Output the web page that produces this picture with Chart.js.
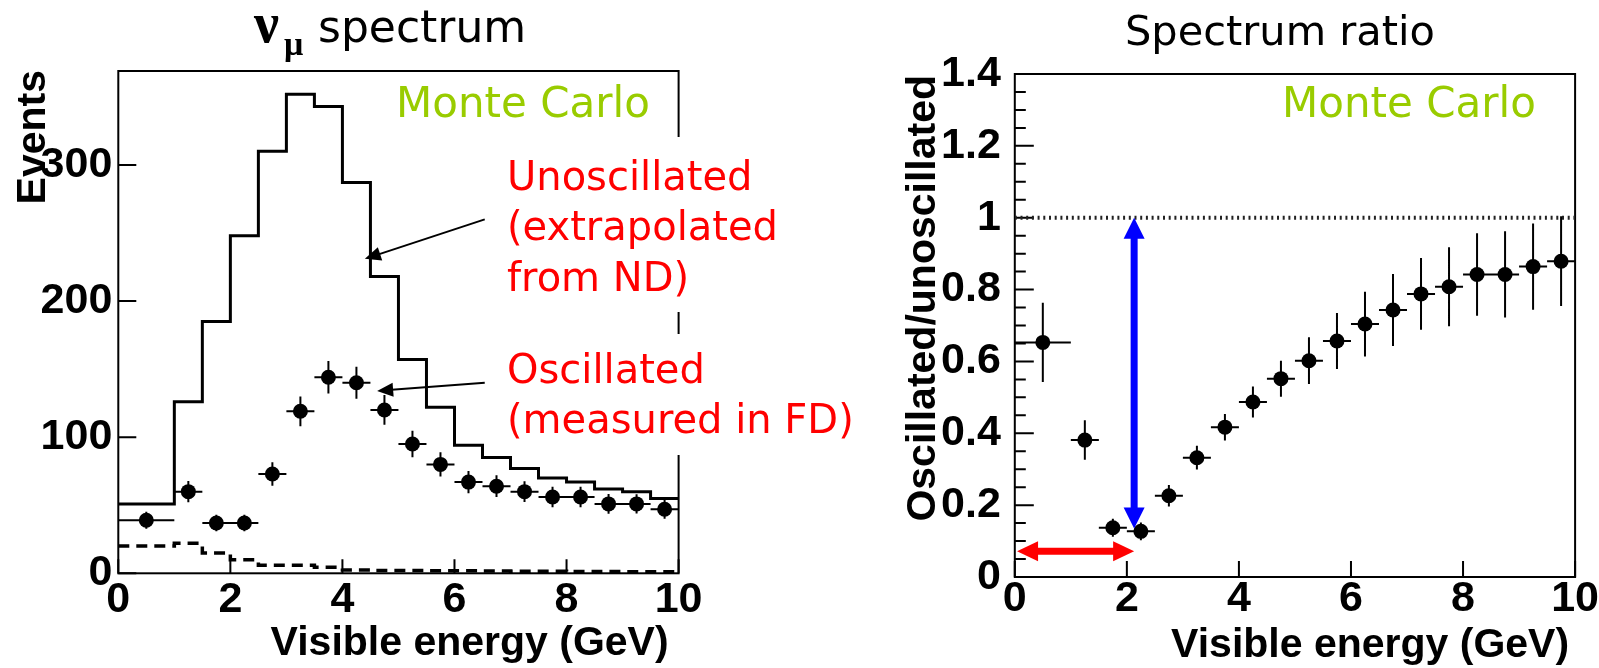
<!DOCTYPE html>
<html lang="en">
<head>
<meta charset="UTF-8" />
<title>numu spectrum and spectrum ratio</title>
<script src="https://cdn.jsdelivr.net/npm/chart.js"></script>
<style>
  body { margin: 0; background: #fff; }
  #wrap { position: relative; width: 1599px; height: 668px; overflow: hidden; }
  canvas { position: absolute; top: 0; }
  #spectrum { left: 0; }
  #ratio { left: 880px; }
</style>
</head>
<body>
<div id="wrap">
  <canvas id="spectrum" width="880" height="668"></canvas>
  <canvas id="ratio" width="719" height="668"></canvas>
</div>
<script>
// bin edges in visible energy (GeV), same binning on both plots
const binEdges = [0, 1, 1.5, 2, 2.5, 3, 3.5, 4, 4.5, 5, 5.5, 6, 6.5, 7, 7.5, 8, 8.5, 9, 9.5, 10];
// unoscillated prediction (extrapolated from ND)
const unoscEvents = [51, 126, 185, 248, 310, 352, 343, 287, 218, 157, 122, 94, 85, 77, 70, 67, 62, 60, 55];
// background, dashed
const bkgEvents = [20, 22, 15, 10, 6, 6, 4.4, 2.4, 2, 2, 1.8, 1.8, 1.6, 1.5, 1.5, 1.4, 1.3, 1.2, 1.2];
// oscillated (measured in FD)
const oscEvents = [39, 60, 37, 37, 73, 119, 144, 140, 120, 95, 80, 67, 64, 60, 56, 56, 51, 51, 47];
const oscErrors = [6.2, 7.8, 6.1, 6.1, 8.6, 10.9, 12, 11.8, 10.9, 9.7, 8.9, 8.2, 8, 7.7, 7.5, 7.5, 7.2, 7.1, 6.9];
// oscillated / unoscillated
const ratioValues = [0.653, 0.381, 0.137, 0.127, 0.226, 0.332, 0.417, 0.487, 0.552, 0.602, 0.657, 0.704, 0.743, 0.788, 0.808, 0.842, 0.842, 0.864, 0.879];
const ratioErrors = [0.11, 0.055, 0.025, 0.025, 0.03, 0.033, 0.037, 0.043, 0.05, 0.065, 0.078, 0.09, 0.1, 0.1, 0.11, 0.115, 0.12, 0.12, 0.125];
// unit ratio reference line
const unityX = [0, 10];
const unityY = [1, 1];
// arrows on the ratio plot: [x0, y0, x1, y1]
const dipDepthArrow = [2.13, 0.135, 2.13, 1.0];
const dipPositionArrow = [0.04, 0.072, 2.13, 0.072];
// arrows on the spectrum pointing at the curves: [x0, y0, x1, y1]
const unoscPointer = [6.54, 260, 4.4, 231];
const oscPointer = [6.54, 140, 4.62, 134];

const binCenters = binEdges.slice(0, -1).map((e, i) => (e + binEdges[i + 1]) / 2);
const histPoints = (vals) => binEdges.map((e, i) => ({ x: e, y: vals[Math.min(i, vals.length - 1)] }));
const markerPoints = (vals) => vals.map((v, i) => ({ x: binCenters[i], y: v }));

const TICK_FONT = { family: "'Liberation Sans', Arial, sans-serif", size: 43, weight: 'bold' };
const LABEL_FONT = "bold 41px 'Liberation Sans', Arial, sans-serif";
const GREEN = '#99cc00';

function drawArrow(ctx, x0, y0, x1, y1, o) {
  const a = Math.atan2(y1 - y0, x1 - x0);
  const c = Math.cos(a), s = Math.sin(a);
  const head = (tx, ty, dir) => {
    ctx.beginPath();
    ctx.moveTo(tx, ty);
    ctx.lineTo(tx - dir * o.len * c + o.half * s, ty - dir * o.len * s - o.half * c);
    ctx.lineTo(tx - dir * o.len * c - o.half * s, ty - dir * o.len * s + o.half * c);
    ctx.closePath();
    ctx.fill();
  };
  ctx.save();
  ctx.strokeStyle = o.color;
  ctx.fillStyle = o.color;
  ctx.lineWidth = o.width;
  const back = o.len * 0.7;
  ctx.beginPath();
  ctx.moveTo(o.both ? x0 + back * c : x0, o.both ? y0 + back * s : y0);
  ctx.lineTo(x1 - back * c, y1 - back * s);
  ctx.stroke();
  head(x1, y1, 1);
  if (o.both) head(x0, y0, -1);
  ctx.restore();
}

function arrowFromData(chart, arr, o) {
  const { x, y } = chart.scales;
  drawArrow(chart.ctx, x.getPixelForValue(arr[0]), y.getPixelForValue(arr[1]),
    x.getPixelForValue(arr[2]), y.getPixelForValue(arr[3]), o);
}

// ROOT style frame with ticks pointing into the plot
function drawFrame(chart, t) {
  const { ctx, chartArea: a, scales } = chart;
  ctx.save();
  ctx.strokeStyle = '#000';
  ctx.lineWidth = 2;
  ctx.strokeRect(a.left, a.top, a.right - a.left, a.bottom - a.top);
  ctx.beginPath();
  scales.x.ticks.forEach((tk) => {
    const px = scales.x.getPixelForValue(tk.value);
    ctx.moveTo(px, a.bottom);
    ctx.lineTo(px, a.bottom - t.xLen);
  });
  scales.y.ticks.forEach((tk) => {
    const py = scales.y.getPixelForValue(tk.value);
    ctx.moveTo(a.left, py);
    ctx.lineTo(a.left + t.yLen, py);
  });
  if (t.yMinorStep) {
    for (let v = 0; v <= scales.y.max + 1e-9; v += t.yMinorStep) {
      const py = scales.y.getPixelForValue(v);
      ctx.moveTo(a.left, py);
      ctx.lineTo(a.left + t.yMinorLen, py);
    }
  }
  ctx.stroke();
  ctx.restore();
}

function drawErrorBars(chart, vals, errs) {
  const { ctx, scales } = chart;
  ctx.save();
  ctx.strokeStyle = '#000';
  ctx.lineWidth = 2;
  ctx.beginPath();
  vals.forEach((v, i) => {
    const cx = scales.x.getPixelForValue(binCenters[i]);
    const cy = scales.y.getPixelForValue(v);
    ctx.moveTo(scales.x.getPixelForValue(binEdges[i]), cy);
    ctx.lineTo(scales.x.getPixelForValue(binEdges[i + 1]), cy);
    ctx.moveTo(cx, scales.y.getPixelForValue(v - errs[i]));
    ctx.lineTo(cx, scales.y.getPixelForValue(v + errs[i]));
  });
  ctx.stroke();
  ctx.restore();
}

function text(ctx, str, x, y, font, color, align) {
  ctx.font = font;
  ctx.fillStyle = color || '#000';
  ctx.textAlign = align || 'left';
  ctx.textBaseline = 'alphabetic';
  ctx.fillText(str, x, y);
}

function verticalTitle(ctx, str, x, yTop) {
  ctx.save();
  ctx.translate(x, yTop);
  ctx.rotate(-Math.PI / 2);
  text(ctx, str, 0, 0, LABEL_FONT, '#000', 'right');
  ctx.restore();
}

function axes(opts) {
  return {
    x: {
      type: 'linear', min: 0, max: 10,
      grid: { display: false, drawTicks: false }, border: { display: false },
      ticks: { stepSize: 2, font: TICK_FONT, color: '#000', padding: opts.xPad, maxRotation: 0 },
      afterFit: (s) => { s.height = opts.xHeight; }
    },
    y: {
      min: 0, max: opts.yMax,
      grid: { display: false, drawTicks: false }, border: { display: false },
      ticks: { stepSize: opts.yStep, includeBounds: false, font: TICK_FONT, color: '#000', padding: opts.yPad,
        callback: (v) => String(+v.toFixed(1)) },
      afterFit: (s) => { s.width = opts.yWidth; }
    }
  };
}

// left: spectrum
new Chart(document.getElementById('spectrum'), {
  type: 'scatter',
  data: {
    datasets: [
      { data: markerPoints(oscEvents), pointRadius: 7.5, pointBackgroundColor: '#000', pointBorderWidth: 0 },
      { data: histPoints(unoscEvents), showLine: true, stepped: true, borderColor: '#000', borderWidth: 3, pointRadius: 0 },
      { data: histPoints(bkgEvents), showLine: true, stepped: true, borderColor: '#000', borderWidth: 3.5, borderDash: [11, 7], pointRadius: 0 }
    ]
  },
  options: {
    responsive: false, animation: false,
    layout: { padding: { left: 0, top: 71, right: 201.4, bottom: 0 } },
    plugins: { legend: { display: false }, tooltip: { enabled: false } },
    scales: axes({ yMax: 369, yStep: 100, xPad: 1, yPad: 6, xHeight: 94.7, yWidth: 118.3 })
  },
  plugins: [{
    id: 'spectrumDecor',
    beforeDatasetsDraw(chart) { drawFrame(chart, { xLen: 14, yLen: 18 }); },
    afterDatasetsDraw(chart) { drawErrorBars(chart, oscEvents, oscErrors); },
    afterDraw(chart) {
      const ctx = chart.ctx, a = chart.chartArea;
      ctx.save();
      // label boxes sit over the right edge of the frame
      ctx.fillStyle = '#fff';
      ctx.fillRect(486, 137, 330, 175);
      ctx.fillRect(484, 334, 390, 121);
      const red = "40px 'DejaVu Sans', sans-serif";
      text(ctx, 'Unoscillated', 507, 190, red, '#ff0000');
      text(ctx, '(extrapolated', 507, 240, red, '#ff0000');
      text(ctx, 'from ND)', 507, 291, red, '#ff0000');
      text(ctx, 'Oscillated', 507, 383, red, '#ff0000');
      text(ctx, '(measured in FD)', 507, 433, red, '#ff0000');
      const pointer = { color: '#000', width: 2, len: 16, half: 7 };
      arrowFromData(chart, unoscPointer, pointer);
      arrowFromData(chart, oscPointer, pointer);
      text(ctx, 'Monte Carlo', 396, 117, "42px 'DejaVu Sans', sans-serif", GREEN);
      text(ctx, '\u03bd', 254, 42, "bold 56px 'Liberation Serif', serif");
      text(ctx, '\u03bc', 284, 55, "bold 34px 'Liberation Serif', serif");
      text(ctx, 'spectrum', 318, 42, "44px 'DejaVu Sans', sans-serif");
      verticalTitle(ctx, 'Events', 45, a.top - 1);
      text(ctx, 'Visible energy (GeV)', a.right - 10, 655, LABEL_FONT, '#000', 'right');
      ctx.restore();
    }
  }]
});

// right: ratio
new Chart(document.getElementById('ratio'), {
  type: 'scatter',
  data: {
    datasets: [
      { data: markerPoints(ratioValues), pointRadius: 7.5, pointBackgroundColor: '#000', pointBorderWidth: 0 },
      { data: unityX.map((x, i) => ({ x, y: unityY[i] })), showLine: true, borderColor: '#222', borderWidth: 4,
        borderDash: [2, 3.7], pointRadius: 0 }
    ]
  },
  options: {
    responsive: false, animation: false,
    layout: { padding: { left: 0, top: 74, right: 23.9, bottom: 0 } },
    plugins: { legend: { display: false }, tooltip: { enabled: false } },
    scales: axes({ yMax: 1.4, yStep: 0.2, xPad: -4, yPad: 14, xHeight: 91, yWidth: 134.8 })
  },
  plugins: [{
    id: 'ratioDecor',
    beforeDatasetsDraw(chart) { drawFrame(chart, { xLen: 16, yLen: 19, yMinorStep: 0.05, yMinorLen: 11 }); },
    afterDatasetsDraw(chart) {
      drawErrorBars(chart, ratioValues, ratioErrors);
      arrowFromData(chart, dipDepthArrow, { color: '#0000ff', width: 7, len: 21, half: 10.5, both: true });
      arrowFromData(chart, dipPositionArrow, { color: '#ff0000', width: 7, len: 21, half: 10, both: true });
    },
    afterDraw(chart) {
      const ctx = chart.ctx, a = chart.chartArea;
      ctx.save();
      text(ctx, 'Spectrum ratio', 245, 45, "41.5px 'DejaVu Sans', sans-serif");
      text(ctx, 'Monte Carlo', 402, 117, "42px 'DejaVu Sans', sans-serif", GREEN);
      verticalTitle(ctx, 'Oscillated/unoscillated', 55, a.top + 1);
      text(ctx, 'Visible energy (GeV)', a.right - 6, 657, LABEL_FONT, '#000', 'right');
      ctx.restore();
    }
  }]
});
</script>
</body>
</html>
